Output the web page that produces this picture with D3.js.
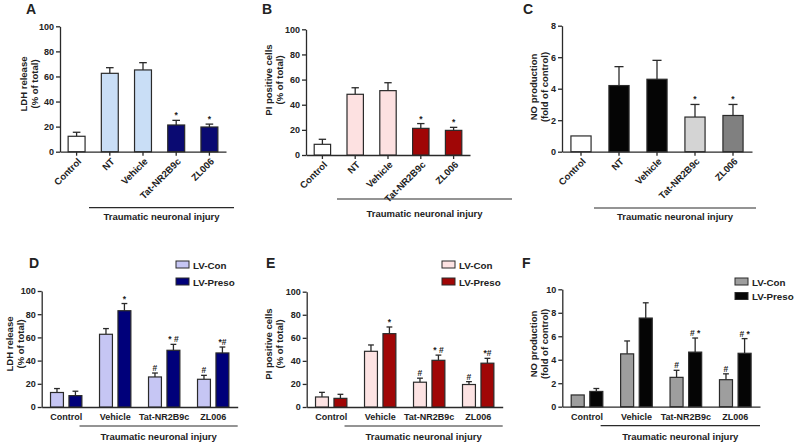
<!DOCTYPE html>
<html>
<head>
<meta charset="utf-8">
<script src="https://cdn.jsdelivr.net/npm/d3@7"></script>
<style>
  body { margin: 0; background: #fff; }
  svg text { font-family: "Liberation Sans", Arial, sans-serif; font-weight: bold; fill: #222; }
</style>
</head>
<body>
<svg id="chart" width="798" height="442"></svg>
<script>
// categorias
const catsTopo = ["Control", "NT", "Vehicle", "Tat-NR2B9c", "ZL006"];
const catsGrupo = ["Control", "Vehicle", "Tat-NR2B9c", "ZL006"];
const series = ["LV-Con", "LV-Preso"];

// A - LDH
const ldhMedia = [12.3, 62.5, 65.2, 21.3, 19.7];
const ldhErro = [3.2, 4.5, 5.8, 3.7, 2.3];
// B - PI
const piMedia = [8.5, 48.3, 51.2, 21.2, 19.6];
const piErro = [4.0, 5.2, 6.3, 3.8, 2.4];
// C - NO
const noMedia = [1.0, 4.2, 4.6, 2.2, 2.3];
const noErro = [0, 1.2, 1.2, 0.8, 0.7];
const sigTopo = ["", "", "", "*", "*"];

// D - LDH com LV
const ldhCon = [12.5, 62.7, 25.9, 23.9];
const ldhConErro = [3.4, 4.9, 3.4, 3.4];
const ldhPreso = [9.8, 83.0, 48.9, 46.6];
const ldhPresoErro = [3.8, 6.2, 5.1, 5.1];
// E - PI com LV
const piCon = [8.7, 48.3, 21.5, 19.5];
const piConErro = [4.0, 5.5, 3.5, 2.5];
const piPreso = [7.5, 63.6, 40.5, 38.0];
const piPresoErro = [3.5, 5.8, 4.5, 4.2];
// F - NO com LV
const noCon = [1.0, 4.5, 2.5, 2.3];
const noConErro = [0, 1.1, 0.6, 0.5];
const noPreso = [1.3, 7.55, 4.65, 4.55];
const noPresoErro = [0.25, 1.3, 1.2, 1.25];

const sigCon = ["", "", "#", "#"];
const sigPresoDE = ["", "*", "* #", "*#"];
const sigPresoF = ["", "", "# *", "# *"];

const ticks100 = [0, 20, 40, 60, 80, 100];
const ticks8 = [0, 2, 4, 6, 8];
const ticks10 = [0, 2, 4, 6, 8, 10];

const svg = d3.select("#chart");
const corLinha = "#2a2a2a";

function eixoY(g, y, x0, ticks) {
    const ax = g.append("g")
        .attr("transform", `translate(${x0},0)`)
        .call(d3.axisLeft(y).tickValues(ticks).tickSize(4).tickSizeOuter(0).tickPadding(2));
    ax.selectAll("path, line").attr("stroke", corLinha).attr("stroke-width", 1.3);
    ax.selectAll("text").style("font-size", "9px").attr("fill", "#222");
}

function rotuloY(g, linhas, x, yc) {
    linhas.forEach((t, i) => {
        g.append("text")
            .attr("transform", `translate(${x + i * 11},${yc}) rotate(-90)`)
            .attr("text-anchor", "middle")
            .style("font-size", "9.5px")
            .text(t);
    });
}

function lesao(g, xa, xb, yLinha, yTexto) {
    g.append("line").attr("x1", xa).attr("x2", xb).attr("y1", yLinha).attr("y2", yLinha)
        .attr("stroke", corLinha).attr("stroke-width", 1.2);
    g.append("text").attr("x", (xa + xb) / 2).attr("y", yTexto)
        .attr("text-anchor", "middle").style("font-size", "9.5px")
        .text("Traumatic neuronal injury");
}

function barra(g, cx, largura, y, media, erro, cor, sig) {
    const capW = largura * 0.45;
    if (erro > 0) {
        g.append("line").attr("x1", cx).attr("x2", cx)
            .attr("y1", y(media)).attr("y2", y(media + erro))
            .attr("stroke", corLinha).attr("stroke-width", 1.3);
        g.append("line").attr("x1", cx - capW / 2).attr("x2", cx + capW / 2)
            .attr("y1", y(media + erro)).attr("y2", y(media + erro))
            .attr("stroke", corLinha).attr("stroke-width", 1.3);
    }
    g.append("rect")
        .attr("x", cx - largura / 2).attr("y", y(media))
        .attr("width", largura).attr("height", y(0) - y(media))
        .attr("fill", cor).attr("stroke", corLinha).attr("stroke-width", 1.2);
    if (sig) {
        g.append("text").attr("x", cx).attr("y", y(media + erro) - 2)
            .attr("text-anchor", "middle").style("font-size", "8.5px")
            .text(sig);
    }
}

function painelSimples(cfg) {
    const g = svg.append("g");
    const y = d3.scaleLinear().domain([0, cfg.max]).range([cfg.yBot, cfg.yTop]);
    const x = d3.scaleBand().domain(catsTopo).range([cfg.x0, cfg.x1])
        .paddingInner(cfg.pad).paddingOuter(cfg.pad / 2);

    const axX = g.append("g").attr("transform", `translate(0,${cfg.yBot})`)
        .call(d3.axisBottom(x).tickSize(4).tickSizeOuter(0).tickFormat(""));
    axX.selectAll("path, line").attr("stroke", corLinha).attr("stroke-width", 1.3);

    catsTopo.forEach((c, i) => {
        const cx = x(c) + x.bandwidth() / 2;
        barra(g, cx, x.bandwidth(), y, cfg.media[i], cfg.erro[i], cfg.cores[i], sigTopo[i]);
        g.append("text")
            .attr("transform", `translate(${cx + 3},${cfg.yBot + 8}) rotate(-45)`)
            .attr("text-anchor", "end").attr("dy", "0.35em")
            .style("font-size", "9.5px")
            .text(c);
    });
    eixoY(g, y, cfg.x0, cfg.ticks);
    rotuloY(g, cfg.rotulo, cfg.xRot, cfg.yRot);
    lesao(g, cfg.lin[0], cfg.lin[1], cfg.lin[2], cfg.lin[3]);
    g.append("text").attr("x", cfg.letra[0]).attr("y", cfg.letra[1])
        .style("font-size", "14px").text(cfg.nome);
}

function painelGrupo(cfg) {
    const g = svg.append("g");
    const y = d3.scaleLinear().domain([0, cfg.max]).range([cfg.yBot, cfg.yTop]);
    const x0 = d3.scaleBand().domain(catsGrupo).range([cfg.x0, cfg.x1])
        .paddingInner(0.36).paddingOuter(0.18);
    const x1 = d3.scaleBand().domain(series).range([0, x0.bandwidth()]).paddingInner(0.3);

    const axX = g.append("g").attr("transform", `translate(0,${cfg.yBot})`)
        .call(d3.axisBottom(x0).tickSize(0).tickSizeOuter(0).tickFormat(""));
    axX.selectAll("path").attr("stroke", corLinha).attr("stroke-width", 1.3);

    catsGrupo.forEach((c, i) => {
        const base = x0(c);
        barra(g, base + x1("LV-Con") + x1.bandwidth() / 2, x1.bandwidth(), y,
            cfg.con[i], cfg.conErro[i], cfg.cores[0], sigCon[i]);
        barra(g, base + x1("LV-Preso") + x1.bandwidth() / 2, x1.bandwidth(), y,
            cfg.preso[i], cfg.presoErro[i], cfg.cores[1], cfg.sigPreso[i]);
        g.append("text").attr("x", base + x0.bandwidth() / 2).attr("y", cfg.yBot + 13)
            .attr("text-anchor", "middle").style("font-size", "9px").text(c);
    });
    eixoY(g, y, cfg.x0, cfg.ticks);
    rotuloY(g, cfg.rotulo, cfg.xRot, cfg.yRot);
    lesao(g, x0("Vehicle") - 20, cfg.x1, cfg.yBot + 19, cfg.yBot + 33);
    g.append("text").attr("x", cfg.letra[0]).attr("y", cfg.letra[1])
        .style("font-size", "14px").text(cfg.nome);

    // legenda
    series.forEach((s, i) => {
        g.append("rect").attr("x", cfg.leg[0]).attr("y", cfg.leg[1] + i * cfg.leg[2])
            .attr("width", 13).attr("height", 7)
            .attr("fill", cfg.cores[i]).attr("stroke", corLinha).attr("stroke-width", 1);
        g.append("text").attr("x", cfg.leg[0] + 17).attr("y", cfg.leg[1] + i * cfg.leg[2] + 7.5)
            .style("font-size", "9.8px").text(s);
    });
}

painelSimples({
    nome: "A", letra: [26, 14], media: ldhMedia, erro: ldhErro, max: 100, ticks: ticks100,
    x0: 60, x1: 226, yTop: 26.3, yBot: 151.7, pad: 0.49,
    cores: ["#ffffff", "#c9def6", "#c9def6", "#0a0a72", "#0a0a72"],
    rotulo: ["LDH release", "(% of total)"], xRot: 27, yRot: 84,
    lin: [89, 234, 207.7, 220]
});
painelSimples({
    nome: "B", letra: [262, 14], media: piMedia, erro: piErro, max: 100, ticks: ticks100,
    x0: 306, x1: 470, yTop: 29.3, yBot: 155, pad: 0.5,
    cores: ["#ffffff", "#fde1e1", "#fde1e1", "#a00606", "#a00606"],
    rotulo: ["PI positive cells", "(% of total)"], xRot: 272, yRot: 80,
    lin: [337, 512, 199, 217]
});
painelSimples({
    nome: "C", letra: [523, 14], media: noMedia, erro: noErro, max: 8, ticks: ticks8,
    x0: 562, x1: 752, yTop: 25.7, yBot: 151.7, pad: 0.47,
    cores: ["#ffffff", "#050505", "#050505", "#d4d4d4", "#808080"],
    rotulo: ["NO production", "(fold of control)"], xRot: 537, yRot: 87,
    lin: [594, 756, 208, 220]
});

painelGrupo({
    nome: "D", letra: [29, 268], con: ldhCon, conErro: ldhConErro, preso: ldhPreso, presoErro: ldhPresoErro,
    sigPreso: sigPresoDE, max: 100, ticks: ticks100,
    x0: 41.7, x1: 237.7, yTop: 291, yBot: 407,
    cores: ["#c6c6f4", "#00007a"], rotulo: ["LDH release", "(% of total)"], xRot: 13, yRot: 344,
    leg: [176, 261, 17]
});
painelGrupo({
    nome: "E", letra: [266, 268], con: piCon, conErro: piConErro, preso: piPreso, presoErro: piPresoErro,
    sigPreso: sigPresoDE, max: 100, ticks: ticks100,
    x0: 306.7, x1: 502.7, yTop: 291.7, yBot: 407,
    cores: ["#fde3e3", "#a00606"], rotulo: ["PI positive cells", "(% of total)"], xRot: 272, yRot: 344,
    leg: [442, 261, 17]
});
painelGrupo({
    nome: "F", letra: [522, 268], con: noCon, conErro: noConErro, preso: noPreso, presoErro: noPresoErro,
    sigPreso: sigPresoF, max: 10, ticks: ticks10,
    x0: 562.3, x1: 760, yTop: 289.3, yBot: 406.7,
    cores: ["#9e9e9e", "#050505"], rotulo: ["NO production", "(fold of control)"], xRot: 537, yRot: 344,
    leg: [735, 278, 14.5]
});
</script>
</body>
</html>
